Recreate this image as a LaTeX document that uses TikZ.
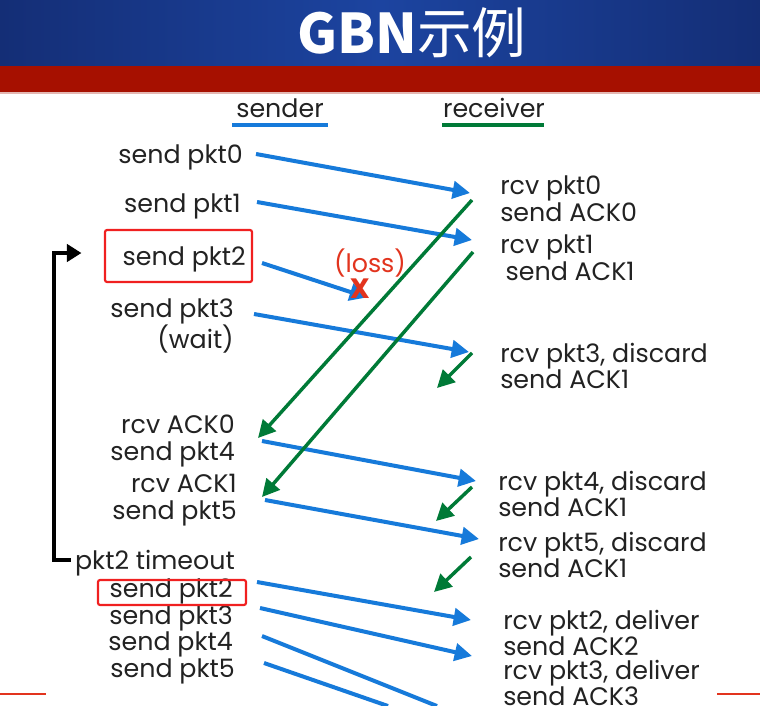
\documentclass[tikz,border=0pt]{standalone}
\usepackage{fontspec}
\setmainfont{Poppins}
\newfontfamily\cjk{Noto Sans CJK SC}
\usetikzlibrary{arrows.meta, positioning, calc}
\definecolor{PktBlue}{RGB}{22,122,218}
\definecolor{AckGreen}{RGB}{0,122,55}
\definecolor{LossRed}{RGB}{226,52,30}
\definecolor{BoxRed}{RGB}{240,32,32}
\definecolor{BarBlue}{RGB}{28,68,160}
\definecolor{BarDark}{RGB}{20,46,118}
\definecolor{BandRed}{RGB}{166,16,0}
\definecolor{TextGray}{RGB}{34,34,34}

\tikzset{
  lbl/.style={inner sep=0pt, text=TextGray, font=\fontsize{19}{20}\selectfont},
  snd/.style={lbl, anchor=east, align=right},
  rcv/.style={lbl, anchor=west, align=left},
  pkt/.style={PktBlue, line width=3pt, -{Triangle[length=13pt,width=13pt]}},
  ack/.style={AckGreen, line width=2.6pt, -{Triangle[length=13pt,width=13pt]}},
  hilite/.style={draw=BoxRed, line width=1.6pt, rounded corners=1.5pt},
}

\begin{document}
\begin{tikzpicture}[x=0.75pt, y=-0.75pt]
    \useasboundingbox (0,0) rectangle (760,706);
    \fill[white] (0,0) rectangle (760,706);

    % title bar
    \shade[left color=BarDark, right color=BarDark, middle color=BarBlue] (0,0) rectangle (760,66);
    \fill[BandRed] (0,66) rectangle (760,92);
    \fill[BandRed!30] (0,92) rectangle (760,94);
    \node[text=white, font=\cjk\fontsize{41}{41}\selectfont] (title) at (412,33) {\bfseries GBN\mdseries 示例};

    % column heads
    \node[lbl] (sender) at (280,108) {sender};
    \node[lbl] (receiver) at (494,108) {receiver};
    \draw[PktBlue, line width=3pt] (232,125) -- (328,125);
    \draw[AckGreen, line width=3pt] (442,125) -- (544,125);

    % sender side
    \node[snd] (s0) at (243,157) {send pkt0};
    \node[snd] (s1) at (241,206) {send pkt1};
    \node[snd] (s2) at (246,259) {send pkt2};
    \node[snd] (s3) at (234,326) {send pkt3\\(wait)};
    \node[snd] (a0) at (235,441) {rcv ACK0\\send pkt4};
    \node[snd] (a1) at (237,500) {rcv ACK1\\send pkt5};
    \node[snd] (tout) at (235,563) {pkt2 timeout};
    \node[snd] (b2) at (233,591) {send pkt2};
    \node[snd] (b3) at (233,618) {send pkt3};
    \node[snd] (b4) at (233,644) {send pkt4};
    \node[snd] (b5) at (235,671) {send pkt5};

    \draw[hilite] (105,230) rectangle (252,282);
    \draw[hilite] (98,580) rectangle (246,605);

    % receiver side
    \node[rcv] (r0) at (500,199) {rcv pkt0\\send ACK0};
    \node[rcv] (r1) at (500,258) {rcv pkt1\\\hspace{4pt}send ACK1};
    \node[rcv] (r3) at (500,366) {rcv pkt3, discard\\send ACK1};
    \node[rcv] (r4) at (498,494) {rcv pkt4, discard\\send ACK1};
    \node[rcv] (r5) at (498,555) {rcv pkt5, discard\\send ACK1};
    \node[rcv, font=\fontsize{19}{19}\selectfont] (r2d) at (503,633) {rcv pkt2, deliver\\send ACK2};
    \node[rcv, font=\fontsize{19}{19}\selectfont] (r3d) at (503,683) {rcv pkt3, deliver\\send ACK3};

    % data packets
    \draw[pkt] ($(s0.east)+(13,-3)$) -- ($(r0.west)+(-30,-6)$);
    \draw[pkt] ($(s1.east)+(16,-4)$) -- ($(r1.west)+(-28,-18)$);
    \node[text=LossRed, font=\fontsize{19}{20}\selectfont, inner sep=0pt] (loss) at (370,263) {(loss)};
    \draw[pkt] ($(s2.east)+(16,4)$) -- ($(loss.south)+(-3,20)$);
    \node[text=LossRed, font=\fontsize{21}{21}\selectfont\bfseries, inner sep=0pt] (lost) at (360,289) {X};
    \draw[pkt] ($(s3.east)+(20,-12)$) -- ($(r3.west)+(-31,-14)$);
    \draw[pkt] ($(a0.east)+(27,0)$) -- ($(r4.west)+(-22,-13)$);
    \draw[pkt] ($(a1.east)+(28,0)$) -- ($(r5.west)+(-19,-16)$);
    \draw[pkt] ($(b2.east)+(24,-9)$) -- ($(r2d.west)+(-32,-13)$);
    \draw[pkt] ($(b3.east)+(27,-10)$) -- ($(r3d.west)+(-31,-27)$);
    \coordinate (cut4) at (437,706);
    \coordinate (cut5) at (388,706);
    \draw[PktBlue, line width=3pt] ($(b4.east)+(29,-8)$) -- (cut4);
    \draw[PktBlue, line width=3pt] ($(b5.east)+(29,-8)$) -- (cut5);

    % acks
    \draw[ack] ($(r0.west)+(-28,1)$) -- ($(a0.east)+(23,-3)$);
    \draw[ack] ($(r1.west)+(-27,-6)$) -- ($(a1.east)+(25,-3)$);
    \draw[ack] ($(r3.west)+(-28,-13)$) -- ($(r3.west)+(-63,22)$);
    \draw[ack] ($(r4.west)+(-26,-7)$) -- ($(r4.west)+(-62,27)$);
    \draw[ack] ($(r5.west)+(-27,2)$) -- ($(r5.west)+(-64,37)$);

    % timeout loop back to pkt2
    \draw[line width=3pt, -{Triangle[length=11pt,width=13pt]}]
        ($(tout.west)+(-4,-3)$) -| ($(s2.west)+(-68,-6)$) -- ($(s2.west)+(-41,-6)$);

    % slide footer lines
    \draw[LossRed, line width=1pt] (0,694) -- (46,694);
    \draw[LossRed, line width=1pt] (717,694) -- (760,694);
\end{tikzpicture}
\end{document}
